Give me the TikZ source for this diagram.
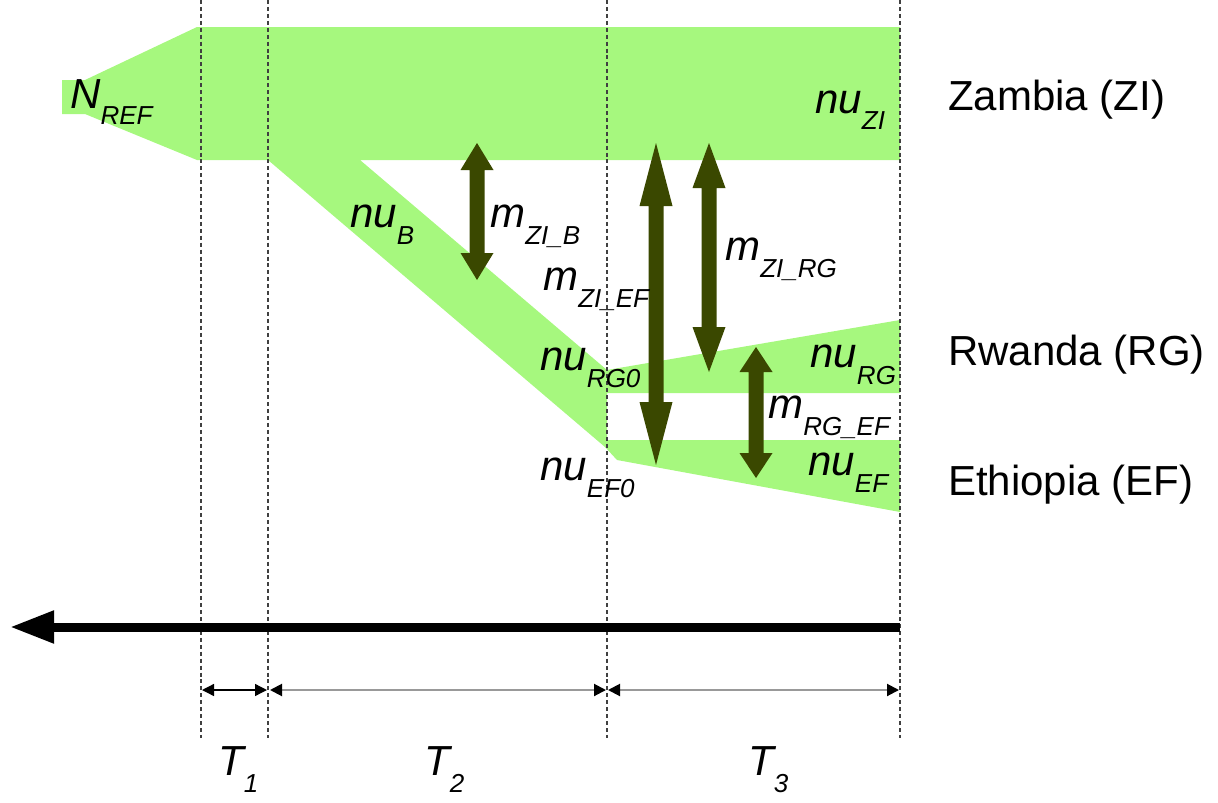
\documentclass[tikz,border=0pt]{standalone}
\usepackage{fontspec}
\setmainfont{Liberation Sans}
\usetikzlibrary{arrows.meta}
\definecolor{popgreen}{RGB}{166,248,126}
\definecolor{migolive}{RGB}{58,72,0}
\newcommand\lblsub[2]{#1\raisebox{-12.75pt}{\fontsize{19.5}{20}\selectfont #2}}
\newcommand\migarrow[5]{%
  \fill[migolive] (#1,#2) -- (#1+16.5,#2+#4) -- (#1+7.5,#2+#4) -- (#1+7.5,#3-#5) -- (#1+16.5,#3-#5) -- (#1,#3) -- (#1-16.5,#3-#5) -- (#1-7.5,#3-#5) -- (#1-7.5,#2+#4) -- (#1-16.5,#2+#4) -- cycle;}
\begin{document}
\begin{tikzpicture}[x=0.75pt,y=-0.75pt,
  lab/.style={font=\fontsize{31.5}{34}\selectfont\itshape, inner sep=0, anchor=base west},
  popname/.style={font=\fontsize{31.5}{34}\selectfont, inner sep=0, anchor=base west},
  guide/.style={dashed, dash pattern=on 3pt off 2.2pt, line width=0.8pt, black!75},
  span/.style={{Triangle[length=9pt,width=9pt,color=black]}-{Triangle[length=9pt,width=9pt,color=black]}, line width=1.5pt, black!40}]
\useasboundingbox (0,0) rectangle (1218,803);
% population bands
\fill[popgreen] (62,80) -- (85,80) -- (197,27) -- (900,27) -- (900,160) -- (360,160)
  -- (607,370) -- (900,320) -- (900,393) -- (607,393) -- (607,440) -- (900,440)
  -- (900,512) -- (617,460) -- (605,447) -- (268,160) -- (197,160) -- (85,114) -- (62,114) -- cycle;
% time guides
\coordinate (g0t) at (201,0);   \coordinate (g0b) at (201,738);
\coordinate (g1t) at (268,0);   \coordinate (g1b) at (268,738);
\coordinate (g2t) at (607,0);   \coordinate (g2b) at (607,738);
\coordinate (g3t) at (900,0);   \coordinate (g3b) at (900,738);
\draw[guide] (g0t) -- (g0b);
\draw[guide] (g1t) -- (g1b);
\draw[guide] (g2t) -- (g2b);
\draw[guide] (g3t) -- (g3b);
% migration arrows
\migarrow{477}{143}{280}{27}{27}
\migarrow{656}{143}{465}{63}{63}
\migarrow{709}{143}{372}{45}{45}
\migarrow{756}{347}{478}{25}{25}
% time axis
\coordinate (axs) at (900,627);
\coordinate (axe) at (10,627);
\draw[line width=6.75pt, -{Triangle[length=33pt,width=23pt]}] (axs) -- (axe);
% spans
\coordinate (s0) at (202,690); \coordinate (s1a) at (267,690);
\coordinate (s1b) at (270,690); \coordinate (s2a) at (606,690);
\coordinate (s2b) at (608,690); \coordinate (s3a) at (899,690);
\draw[span, black, line width=1pt] (s0) -- (s1a);
\draw[span] (s1b) -- (s2a);
\draw[span] (s2b) -- (s3a);
% labels
\node[lab] (nref) at (70,108) {\lblsub{N}{REF}};
\node[lab] (nuzi) at (815,113) {\lblsub{nu}{ZI}};
\node[lab] (nub) at (350,227) {\lblsub{nu}{B}};
\node[lab] (mzib) at (490,227) {\lblsub{m}{ZI\_B}};
\node[lab] (mzief) at (543,290) {\lblsub{m}{ZI\_EF}};
\node[lab] (nurgz) at (540,370) {\lblsub{nu}{RG0}};
\node[lab] (nuefz) at (540,480) {\lblsub{nu}{EF0}};
\node[lab] (mzirg) at (725,260) {\lblsub{m}{ZI\_RG}};
\node[lab] (nurg) at (810,367) {\lblsub{nu}{RG}};
\node[lab] (mrgef) at (768,418) {\lblsub{m}{RG\_EF}};
\node[lab] (nuef) at (808,475) {\lblsub{nu}{EF}};
\node[popname] (zi) at (948,110) {Zambia (ZI)};
\node[popname] (rg) at (948,365) {Rwanda (RG)};
\node[popname] (ef) at (948,495) {Ethiopia (EF)};
\node[lab] (tone) at (218,775) {\lblsub{T}{1}};
\node[lab] (ttwo) at (424,775) {\lblsub{T}{2}};
\node[lab] (tthree) at (748,775) {\lblsub{T}{3}};
\end{tikzpicture}
\end{document}
